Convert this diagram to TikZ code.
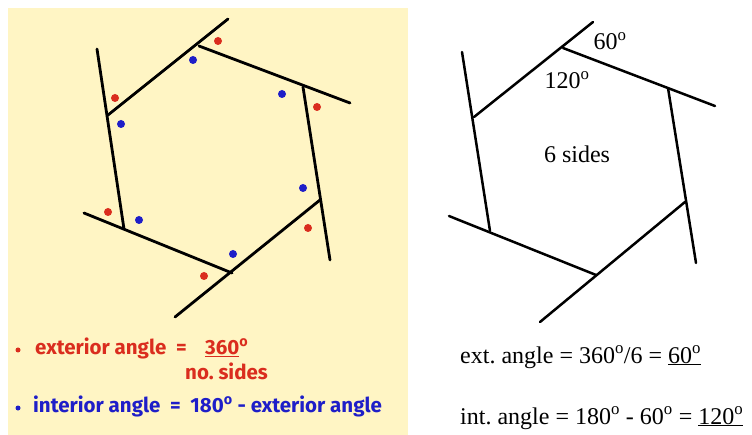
\documentclass[tikz,border=0pt]{standalone}
\usepackage{fontspec}
\setmainfont{Liberation Serif}
\newfontfamily\comicf{Fira Sans}
\frenchspacing
\definecolor{panel}{RGB}{255,245,196}
\definecolor{exred}{RGB}{218,45,30}
\definecolor{inblue}{RGB}{30,30,200}
\begin{document}
\begin{tikzpicture}[x=1pt,y=-1pt,
  edge/.style={line width=2.8pt,line cap=round},
  reddot/.style={circle,fill=exred,inner sep=0pt,minimum size=8pt},
  bluedot/.style={circle,fill=inblue,inner sep=0pt,minimum size=8pt},
  serif/.style={font=\fontsize{24}{27}\selectfont,inner sep=0pt},
  comic/.style={font=\comicf\bfseries\fontsize{20.5}{23}\selectfont,inner sep=0pt}]
\useasboundingbox (0,0) rectangle (752,435);
\fill[panel] (8,8) rectangle (408,435);
% left hexagon
\coordinate (T) at (199,46);
\coordinate (RT) at (303,87);
\coordinate (RB) at (320,200);
\coordinate (B) at (232,273);
\coordinate (LB) at (124,229);
\coordinate (LT) at (108,115);
\coordinate (e1) at (228,19);
\coordinate (e2) at (350,103);
\coordinate (e3) at (330,260);
\coordinate (e4) at (175,317);
\coordinate (e5) at (84,213);
\coordinate (e6) at (97,49);
\draw[edge] (LT) -- (e1);
\draw[edge] (T) -- (e2);
\draw[edge] (RT) -- (e3);
\draw[edge] (RB) -- (e4);
\draw[edge] (B) -- (e5);
\draw[edge] (LB) -- (e6);
\node[reddot] (r1) at (218,41) {};
\node[reddot] (r2) at (317,107) {};
\node[reddot] (r3) at (308,228) {};
\node[reddot] (r4) at (204,276) {};
\node[reddot] (r5) at (108,212) {};
\node[reddot] (r6) at (115,98) {};
\node[bluedot] (b1) at (193,60) {};
\node[bluedot] (b2) at (282,94) {};
\node[bluedot] (b3) at (303,188) {};
\node[bluedot] (b4) at (233,254) {};
\node[bluedot] (b5) at (139,220) {};
\node[bluedot] (b6) at (121,124) {};
% left legend
\node[reddot,minimum size=5pt] (ld1) at (18,350) {};
\node[comic,text=exred,anchor=west] (ltx1) at (35,348) {exterior angle\ \ =};
\node[comic,text=exred,anchor=west] (ltx2) at (205,348) {\underline{360}\textsuperscript{o}};
\node[comic,text=exred,anchor=west] (ltx3) at (185,371) {no. sides};
\node[bluedot,minimum size=5pt] (ld2) at (18,408) {};
\node[comic,text=inblue,anchor=west] (ltx4) at (33,406) {interior angle\ \ =\ \ 180\textsuperscript{o} - exterior angle};
% right hexagon
\coordinate (T2) at (563,48);
\coordinate (RT2) at (668,88);
\coordinate (RB2) at (685,202);
\coordinate (B2) at (596,275);
\coordinate (LB2) at (490,231);
\coordinate (LT2) at (474,117);
\coordinate (f1) at (593,22);
\coordinate (f2) at (715,106);
\coordinate (f3) at (696,263);
\coordinate (f4) at (540,322);
\coordinate (f5) at (449,216);
\coordinate (f6) at (462,52);
\draw[edge,line width=2.5pt] (LT2) -- (f1);
\draw[edge,line width=2.5pt] (T2) -- (f2);
\draw[edge,line width=2.5pt] (RT2) -- (f3);
\draw[edge,line width=2.5pt] (RB2) -- (f4);
\draw[edge,line width=2.5pt] (B2) -- (f5);
\draw[edge,line width=2.5pt] (LB2) -- (f6);
\node[serif] (a60) at (610,41) {60\textsuperscript{o}};
\node[serif] (a120) at (567,80) {120\textsuperscript{o}};
\node[serif] (six) at (577,154) {6 sides};
\node[serif,anchor=base west] (ext) at (460,363) {ext. angle = 360\textsuperscript{o}/6 = \underline{60\textsuperscript{o}}};
\node[serif,anchor=base west] (int) at (460,424) {int. angle = 180\textsuperscript{o} - 60\textsuperscript{o} = \underline{120\textsuperscript{o}}};
\end{tikzpicture}
\end{document}
